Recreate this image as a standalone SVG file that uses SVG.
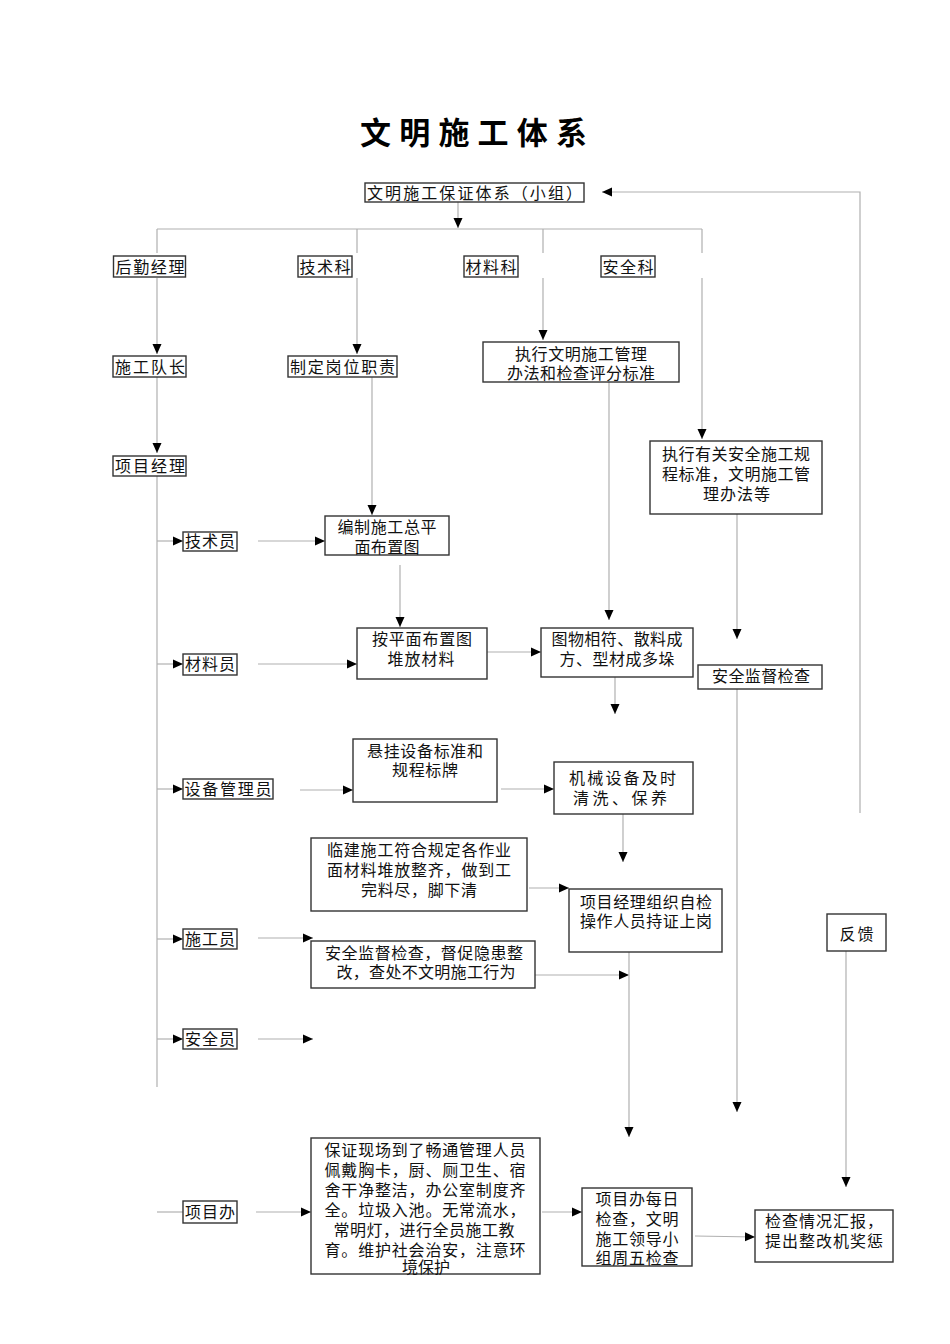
<svg xmlns="http://www.w3.org/2000/svg" width="950" height="1344" viewBox="0 0 950 1344">
<style>
text{font-family:"Liberation Serif","Noto Sans CJK SC",serif;font-size:16px;fill:#111;text-anchor:middle}
.title{font-size:31px;font-weight:bold;fill:#000}
.box{fill:#fff;stroke:#333;stroke-width:1.4}
.ln{fill:none;stroke:#b0b0b0;stroke-width:1.2}
.ar{marker-end:url(#ah)}
</style>
<defs>
<marker id="ah" viewBox="0 0 10 10" markerWidth="10" markerHeight="10" refX="10" refY="5" markerUnits="userSpaceOnUse" orient="auto">
<path d="M0,0.5 L10,5 L0,9.5 Z" fill="#000"/>
</marker>
</defs>
<rect width="950" height="1344" fill="#fff"/>
<text class="title" x="473.5" y="144" textLength="227" lengthAdjust="spacing">文明施工体系</text>

<g id="connectors">
<path class="ln ar" d="M458,202 V228"/>
<path class="ln" d="M157,229 H702"/>
<path class="ln" d="M157,229 V253 M357,229 V253 M543,229 V253 M702,229 V253"/>
<path class="ln ar" d="M157,278 V354"/>
<path class="ln ar" d="M357,278 V354"/>
<path class="ln ar" d="M543,278 V340"/>
<path class="ln ar" d="M702,278 V439"/>
<path class="ln ar" d="M157,377 V453"/>
<path class="ln" d="M157,476 V1087"/>
<path class="ln ar" d="M157,541 H183"/>
<path class="ln ar" d="M157,664 H183"/>
<path class="ln ar" d="M157,789 H183"/>
<path class="ln ar" d="M157,939 H183"/>
<path class="ln ar" d="M157,1039 H183"/>
<path class="ln" d="M157,1212 H183"/>
<path class="ln ar" d="M258,541 H325"/>
<path class="ln ar" d="M372,377 V515"/>
<path class="ln ar" d="M400,565 V627"/>
<path class="ln ar" d="M258,664 H357"/>
<path class="ln ar" d="M487,652 H541"/>
<path class="ln ar" d="M609,382 V620"/>
<path class="ln ar" d="M615,677 V714"/>
<path class="ln ar" d="M737,514 V639"/>
<path class="ln ar" d="M737,689 V1112"/>
<path class="ln ar" d="M300,790 H353"/>
<path class="ln ar" d="M501,789 H554"/>
<path class="ln ar" d="M623,814 V862"/>
<path class="ln ar" d="M529,888 H569"/>
<path class="ln ar" d="M258,938 H313"/>
<path class="ln ar" d="M529,975 H629"/>
<path class="ln ar" d="M629,952 V1137"/>
<path class="ln ar" d="M258,1039 H313"/>
<path class="ln ar" d="M846,951 V1187"/>
<path class="ln ar" d="M860,813 V192 H602"/>
<path class="ln ar" d="M256,1212 H311"/>
<path class="ln ar" d="M542,1212 H582"/>
<path class="ln ar" d="M695,1236 L755,1237"/>
</g>

<g id="n-top"><rect class="box" x="365" y="183" width="219" height="19"/><text x="474.5" y="199" textLength="215" lengthAdjust="spacing">文明施工保证体系（小组）</text></g>
<g id="n-houqin"><rect class="box" x="113.5" y="256" width="72" height="21"/><text x="150" y="273" textLength="69" lengthAdjust="spacing">后勤经理</text></g>
<g id="n-jishuke"><rect class="box" x="298" y="256" width="54" height="21"/><text x="325" y="273" textLength="51" lengthAdjust="spacing">技术科</text></g>
<g id="n-cailiaoke"><rect class="box" x="464" y="256" width="54" height="21"/><text x="491" y="273" textLength="51" lengthAdjust="spacing">材料科</text></g>
<g id="n-anquanke"><rect class="box" x="601" y="256" width="54" height="21"/><text x="628" y="273" textLength="51" lengthAdjust="spacing">安全科</text></g>
<g id="n-duizhang"><rect class="box" x="113" y="356" width="73" height="21"/><text x="150" y="373" textLength="70" lengthAdjust="spacing">施工队长</text></g>
<g id="n-zhiding"><rect class="box" x="288" y="356" width="109" height="21"/><text x="342.5" y="373" textLength="105" lengthAdjust="spacing">制定岗位职责</text></g>
<g id="n-xiangmujingli"><rect class="box" x="113" y="456" width="73" height="20"/><text x="150" y="472" textLength="70" lengthAdjust="spacing">项目经理</text></g>
<g id="n-zhixing1"><rect class="box" x="483" y="342" width="196" height="40"/><text x="581" y="360" textLength="132" lengthAdjust="spacing">执行文明施工管理</text><text x="581" y="379" textLength="148" lengthAdjust="spacing">办法和检查评分标准</text></g>
<g id="n-zhixing2"><rect class="box" x="650" y="441" width="172" height="73"/><text x="736" y="460" textLength="148" lengthAdjust="spacing">执行有关安全施工规</text><text x="736" y="480" textLength="148" lengthAdjust="spacing">程标准，文明施工管</text><text x="736.5" y="500" textLength="67" lengthAdjust="spacing">理办法等</text></g>
<g id="n-jishuyuan"><rect class="box" x="183" y="532" width="54" height="19"/><text x="210" y="547" textLength="50" lengthAdjust="spacing">技术员</text></g>
<g id="n-bianzhi"><rect class="box" x="325" y="516" width="124" height="39"/><text x="387" y="533" textLength="99" lengthAdjust="spacing">编制施工总平</text><text x="387" y="553" textLength="65" lengthAdjust="spacing">面布置图</text></g>
<g id="n-cailiaoyuan"><rect class="box" x="183" y="654" width="54" height="21"/><text x="210" y="670" textLength="50" lengthAdjust="spacing">材料员</text></g>
<g id="n-anpingmian"><rect class="box" x="357" y="628" width="130" height="51"/><text x="422" y="645" textLength="100" lengthAdjust="spacing">按平面布置图</text><text x="421" y="665" textLength="67" lengthAdjust="spacing">堆放材料</text></g>
<g id="n-tuwu"><rect class="box" x="541" y="628" width="152" height="49"/><text x="617" y="645" textLength="131" lengthAdjust="spacing">图物相符、散料成</text><text x="617" y="665" textLength="115" lengthAdjust="spacing">方、型材成多垛</text></g>
<g id="n-anquanjiandu"><rect class="box" x="698" y="665" width="124" height="24"/><text x="761" y="682" textLength="98" lengthAdjust="spacing">安全监督检查</text></g>
<g id="n-shebei"><rect class="box" x="183" y="779" width="90" height="20"/><text x="228" y="795" textLength="87" lengthAdjust="spacing">设备管理员</text></g>
<g id="n-xuangua"><rect class="box" x="353" y="739" width="144" height="63"/><text x="425" y="757" textLength="116" lengthAdjust="spacing">悬挂设备标准和</text><text x="425" y="776" textLength="66" lengthAdjust="spacing">规程标牌</text></g>
<g id="n-jixie"><rect class="box" x="554" y="762" width="139" height="52"/><text x="622.5" y="784" textLength="107" lengthAdjust="spacing">机械设备及时</text><text x="620" y="804" textLength="94" lengthAdjust="spacing">清洗、保养</text></g>
<g id="n-linjian"><rect class="box" x="311" y="838" width="216" height="73"/><text x="419" y="856" textLength="184" lengthAdjust="spacing">临建施工符合规定各作业</text><text x="419" y="876" textLength="184" lengthAdjust="spacing">面材料堆放整齐，做到工</text><text x="419" y="896" textLength="116" lengthAdjust="spacing">完料尽，脚下清</text></g>
<g id="n-zijian"><rect class="box" x="569" y="889" width="153" height="63"/><text x="646" y="908" textLength="132" lengthAdjust="spacing">项目经理组织自检</text><text x="646" y="927" textLength="132" lengthAdjust="spacing">操作人员持证上岗</text></g>
<g id="n-shigongyuan"><rect class="box" x="183" y="929" width="54" height="20"/><text x="210" y="945" textLength="50" lengthAdjust="spacing">施工员</text></g>
<g id="n-duchu"><rect class="box" x="311" y="941" width="224" height="47"/><text x="424" y="959" textLength="198" lengthAdjust="spacing">安全监督检查，督促隐患整</text><text x="426" y="978" textLength="179" lengthAdjust="spacing">改，查处不文明施工行为</text></g>
<g id="n-anquanyuan"><rect class="box" x="183" y="1029" width="54" height="20"/><text x="210" y="1045" textLength="50" lengthAdjust="spacing">安全员</text></g>
<g id="n-fankui"><rect class="box" x="827" y="914" width="59" height="37"/><text x="856.5" y="940" textLength="34" lengthAdjust="spacing">反馈</text></g>
<g id="n-xiangmuban"><rect class="box" x="183" y="1201" width="54" height="22"/><text x="210" y="1218" textLength="50" lengthAdjust="spacing">项目办</text></g>
<g id="n-baozheng"><rect class="box" x="311" y="1138" width="229" height="136"/>
<text x="425" y="1156" textLength="201" lengthAdjust="spacing">保证现场到了畅通管理人员</text>
<text x="425" y="1176" textLength="201" lengthAdjust="spacing">佩戴胸卡，厨、厕卫生、宿</text>
<text x="425" y="1196" textLength="201" lengthAdjust="spacing">舍干净整洁，办公室制度齐</text>
<text x="425" y="1216" textLength="201" lengthAdjust="spacing">全。垃圾入池。无常流水，</text>
<text x="424" y="1236" textLength="181" lengthAdjust="spacing">常明灯，进行全员施工教</text>
<text x="425" y="1256" textLength="201" lengthAdjust="spacing">育。维护社会治安，注意环</text>
<text x="426" y="1273" textLength="48" lengthAdjust="spacing">境保护</text></g>
<g id="n-meiri"><rect class="box" x="582" y="1188" width="110" height="78"/><text x="637" y="1205" textLength="83" lengthAdjust="spacing">项目办每日</text><text x="637" y="1225" textLength="83" lengthAdjust="spacing">检查，文明</text><text x="637" y="1245" textLength="83" lengthAdjust="spacing">施工领导小</text><text x="637" y="1264" textLength="83" lengthAdjust="spacing">组周五检查</text></g>
<g id="n-huibao"><rect class="box" x="755" y="1210" width="138" height="52"/><text x="824" y="1227" textLength="118" lengthAdjust="spacing">检查情况汇报，</text><text x="824" y="1247" textLength="118" lengthAdjust="spacing">提出整改机奖惩</text></g>
</svg>
